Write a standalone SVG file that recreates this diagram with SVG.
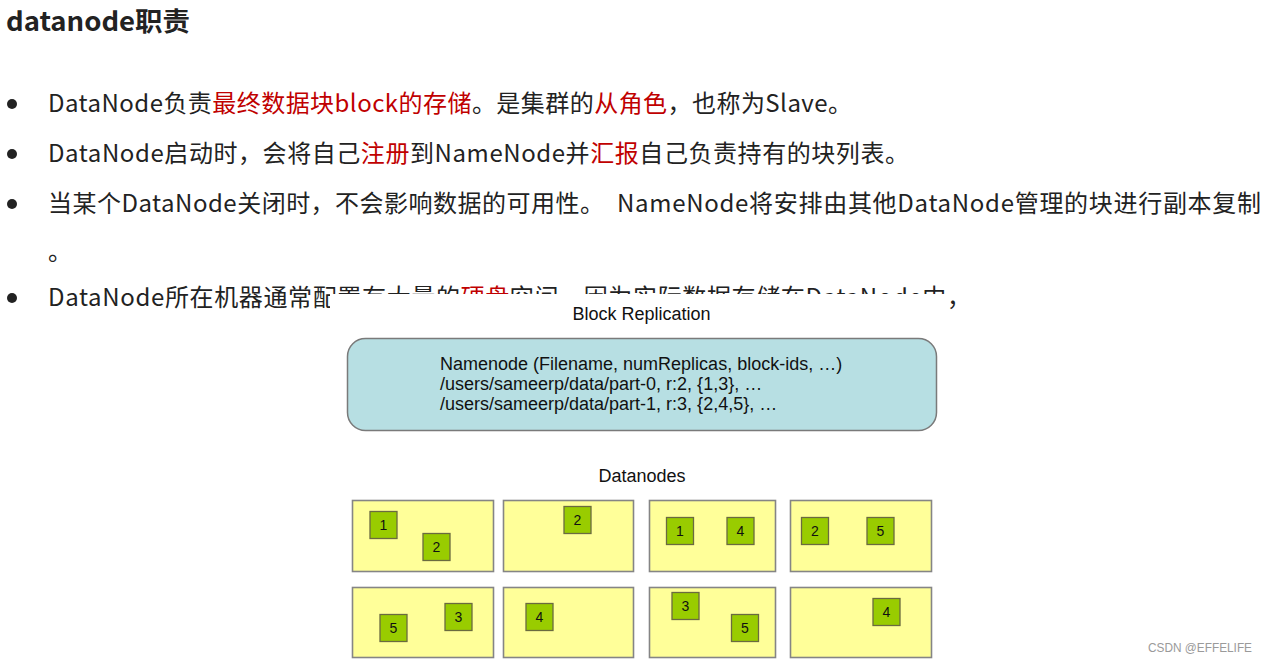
<svg xmlns="http://www.w3.org/2000/svg" width="1269" height="662" viewBox="0 0 1269 662">
<style>
.t{font-family:"Noto Sans CJK SC","Noto Sans",sans-serif;font-size:24px;fill:#222}
.r{fill:#C00000}
.a{font-family:"Liberation Sans",Arial,sans-serif;fill:#111}
.dn{fill:#FFFF99;stroke:#858585;stroke-width:1.6}
.blk{fill:#99CC00;stroke:#6a6a40;stroke-width:1.3}
.num{font-family:"Liberation Sans",Arial,sans-serif;font-size:14px;fill:#111;text-anchor:middle}
</style>
<rect width="1269" height="662" fill="#fff"/>
<text x="6" y="31" class="t" style="font-size:26px;font-weight:bold" fill="#222" textLength="184" lengthAdjust="spacingAndGlyphs">datanode职责</text>
<g fill="#222">
<circle cx="12" cy="104" r="5"/>
<circle cx="12" cy="154" r="5"/>
<circle cx="12" cy="204" r="5"/>
<circle cx="12" cy="298" r="5"/>
</g>
<text x="48" y="112" class="t" textLength="804">DataNode负责<tspan class="r">最终数据块block的存储</tspan>。是集群的<tspan class="r">从角色</tspan>，也称为Slave。</text>
<text x="48" y="162" class="t" textLength="861">DataNode启动时，会将自己<tspan class="r">注册</tspan>到NameNode并<tspan class="r">汇报</tspan>自己负责持有的块列表。</text>
<text x="48" y="212" class="t" textLength="556">当某个DataNode关闭时，不会影响数据的可用性。</text>
<text x="617" y="212" class="t" textLength="644">NameNode将安排由其他DataNode管理的块进行副本复制</text>
<text x="48" y="260" class="t">。</text>
<text x="48" y="306" class="t" textLength="923">DataNode所在机器通常配置有大量的<tspan class="r">硬盘</tspan>空间，因为实际数据存储在DataNode中，</text>
<rect x="330" y="294" width="618" height="368" fill="#fff"/>
<text x="641.5" y="320" class="a" font-size="18" text-anchor="middle">Block Replication</text>
<g id="namenode">
<rect x="347.5" y="338.5" width="589" height="92" rx="18" fill="#B7DFE3" stroke="#7a7a7a" stroke-width="1.5"/>
<text class="a" font-size="18"><tspan x="440" y="370">Namenode (Filename, numReplicas, block-ids, …)</tspan><tspan x="440" y="390">/users/sameerp/data/part-0, r:2, {1,3}, …</tspan><tspan x="440" y="410">/users/sameerp/data/part-1, r:3, {2,4,5}, …</tspan></text>
</g>
<text x="642" y="482" class="a" font-size="18" text-anchor="middle">Datanodes</text>
<g id="connectors"/>
<g id="datanode-1">
<rect class="dn" x="352.5" y="500.5" width="141" height="71"/>
<rect class="blk" x="370" y="511.5" width="27" height="27"/><text class="num" x="383.5" y="530">1</text>
<rect class="blk" x="423" y="533.5" width="27" height="27"/><text class="num" x="436.5" y="552">2</text>
</g>
<g id="datanode-2">
<rect class="dn" x="503.5" y="500.5" width="130" height="71"/>
<rect class="blk" x="564" y="506.5" width="27" height="27"/><text class="num" x="577.5" y="525">2</text>
</g>
<g id="datanode-3">
<rect class="dn" x="649.5" y="500.5" width="126" height="71"/>
<rect class="blk" x="666.5" y="517.5" width="27" height="27"/><text class="num" x="680" y="536">1</text>
<rect class="blk" x="727" y="517.5" width="27" height="27"/><text class="num" x="740.5" y="536">4</text>
</g>
<g id="datanode-4">
<rect class="dn" x="790.5" y="500.5" width="141" height="71"/>
<rect class="blk" x="801.5" y="517.5" width="27" height="27"/><text class="num" x="815" y="536">2</text>
<rect class="blk" x="867" y="517.5" width="27" height="27"/><text class="num" x="880.5" y="536">5</text>
</g>
<g id="datanode-5">
<rect class="dn" x="352.5" y="587.5" width="141" height="70"/>
<rect class="blk" x="380" y="614.5" width="27" height="27"/><text class="num" x="393.5" y="633">5</text>
<rect class="blk" x="445" y="603.5" width="27" height="27"/><text class="num" x="458.5" y="622">3</text>
</g>
<g id="datanode-6">
<rect class="dn" x="503.5" y="587.5" width="130" height="70"/>
<rect class="blk" x="526" y="603.5" width="27" height="27"/><text class="num" x="539.5" y="622">4</text>
</g>
<g id="datanode-7">
<rect class="dn" x="649.5" y="587.5" width="126" height="70"/>
<rect class="blk" x="672" y="592.5" width="27" height="27"/><text class="num" x="685.5" y="611">3</text>
<rect class="blk" x="731.5" y="614.5" width="27" height="27"/><text class="num" x="745" y="633">5</text>
</g>
<g id="datanode-8">
<rect class="dn" x="790.5" y="587.5" width="141" height="70"/>
<rect class="blk" x="873" y="598.5" width="27" height="27"/><text class="num" x="886.5" y="617">4</text>
</g>
<text x="1148" y="652" font-family="'Liberation Sans',Arial,sans-serif" font-size="12" fill="#9a9a9a" textLength="104" lengthAdjust="spacingAndGlyphs">CSDN @EFFELIFE</text>
</svg>
